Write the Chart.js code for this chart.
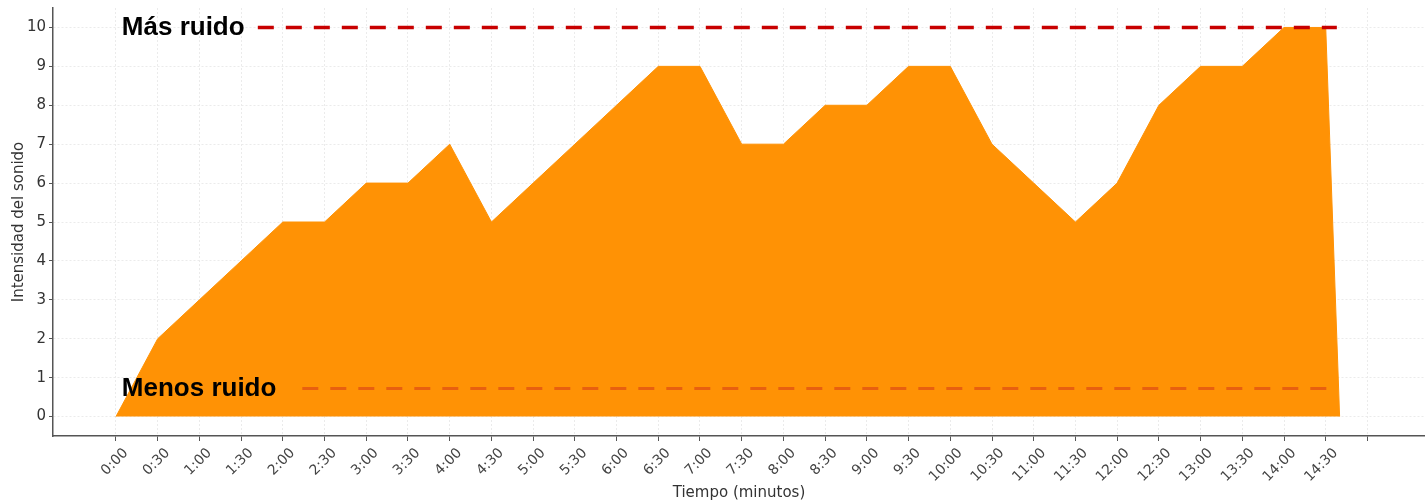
<!DOCTYPE html>
<html>
<head>
<meta charset="utf-8">
<script src="https://cdn.jsdelivr.net/npm/chart.js@4.4.1/dist/chart.umd.min.js"></script>
<style>
  html, body { margin: 0; padding: 0; background: #fff; }
  #contenedor { width: 1425px; height: 502px; }
</style>
</head>
<body>
<div id="contenedor"><canvas id="grafico"></canvas></div>
<script>
// Marcas de tiempo (cada 30 segundos)
const tiempos = ['0:00','0:30','1:00','1:30','2:00','2:30','3:00','3:30','4:00','4:30',
  '5:00','5:30','6:00','6:30','7:00','7:30','8:00','8:30','9:00','9:30',
  '10:00','10:30','11:00','11:30','12:00','12:30','13:00','13:30','14:00','14:30'];
// Intensidad del sonido en cada marca
const intensidad = [0,2,3,4,5,5,6,6,7,5,6,7,8,9,9,7,7,8,8,9,9,7,6,5,6,8,9,9,10,10];
// Cierre del área después del último valor
const cierreTiempo = '14:40';
const cierreValor = 0;
// Marcas del eje x (la de 15:00 va sin texto)
const marcasX = [...tiempos, '15:00'];
const ocultas = ['15:00'];
// Marcas del eje y
const marcasY = [0,1,2,3,4,5,6,7,8,9,10];
// Niveles de referencia
const nivelMas = 10;
const tramoMas = ['1:42','14:38'];
const nivelMenos = 0.72;
const tramoMenos = ['2:14','14:32'];

function aMinutos(t) {
  const [m, s] = t.split(':').map(Number);
  return m + s / 60;
}

const puntos = tiempos.map((t, i) => ({ x: aMinutos(t), y: intensidad[i] }));
puntos.push({ x: aMinutos(cierreTiempo), y: cierreValor });

// Textos sobre las líneas de referencia
const textos = {
  id: 'textos',
  afterDatasetsDraw(chart) {
    const { ctx, scales: { x, y } } = chart;
    ctx.save();
    ctx.font = 'bold 26px "Liberation Sans", Arial, sans-serif';
    ctx.fillStyle = '#000';
    ctx.textAlign = 'left';
    ctx.textBaseline = 'middle';
    ctx.fillText('Más ruido', x.getPixelForValue(0.07), y.getPixelForValue(nivelMas));
    ctx.fillText('Menos ruido', x.getPixelForValue(0.07), y.getPixelForValue(nivelMenos));
    ctx.restore();
  }
};

const fuenteX = { family: '"DejaVu Sans", sans-serif', size: 14 };
const fuenteY = { family: '"DejaVu Sans", sans-serif', size: 15 };
const fuenteTitulo = { family: '"DejaVu Sans", sans-serif', size: 15 };

document.addEventListener('DOMContentLoaded', function () {
  const ctx = document.getElementById('grafico').getContext('2d');
  new Chart(ctx, {
    type: 'line',
    data: {
      datasets: [
        {
          data: tramoMas.map(t => ({ x: aMinutos(t), y: nivelMas })),
          borderColor: '#c80000',
          borderWidth: 3.5,
          borderDash: [16, 12],
          pointRadius: 0,
          fill: false,
          order: 1
        },
        {
          data: tramoMenos.map(t => ({ x: aMinutos(t), y: nivelMenos })),
          borderColor: '#e8600f',
          borderWidth: 3,
          borderDash: [16, 12],
          pointRadius: 0,
          fill: false,
          order: 1
        },
        {
          data: puntos,
          borderColor: '#ff9205',
          backgroundColor: '#ff9205',
          borderWidth: 1,
          pointRadius: 0,
          tension: 0,
          fill: 'origin',
          order: 2
        }
      ]
    },
    options: {
      responsive: true,
      maintainAspectRatio: false,
      animation: false,
      layout: { padding: { top: 8, left: 0, right: 0, bottom: 0 } },
      plugins: { legend: { display: false }, tooltip: { enabled: false } },
      scales: {
        x: {
          type: 'linear',
          min: -0.755,
          max: 15.69,
          afterBuildTicks: s => { s.ticks = marcasX.map(t => ({ value: aMinutos(t) })); },
          afterFit: s => { s.height = 66; s.paddingLeft = 0; s.paddingRight = 0; },
          ticks: {
            autoSkip: false,
            maxRotation: 45,
            minRotation: 45,
            font: fuenteX,
            color: '#444',
            padding: 4,
            labelOffset: 10,
            callback: (v, i) => ocultas.includes(marcasX[i]) ? '' : marcasX[i]
          },
          grid: { color: '#ebebeb', lineWidth: 1, tickColor: '#555', tickLength: 5 },
          border: { color: '#555', width: 1.5, dash: [2, 2] },
          title: {
            display: true,
            text: 'Tiempo (minutos)',
            font: fuenteTitulo,
            color: '#333',
            padding: { top: 0, bottom: 0 }
          }
        },
        y: {
          min: -0.5,
          max: 10.5,
          afterBuildTicks: s => { s.ticks = marcasY.map(v => ({ value: v })); },
          afterFit: s => { s.width = 53; s.paddingTop = 0; s.paddingBottom = 0; },
          ticks: { font: fuenteY, color: '#333', padding: 3 },
          grid: { color: '#ebebeb', lineWidth: 1, tickColor: '#555', tickLength: 4 },
          border: { color: '#555', width: 1.5, dash: [2, 2] },
          title: {
            display: true,
            text: 'Intensidad del sonido',
            font: fuenteTitulo,
            color: '#333',
            padding: { top: 10, bottom: 0 }
          }
        }
      }
    },
    plugins: [textos]
  });
});
</script>
</body>
</html>
